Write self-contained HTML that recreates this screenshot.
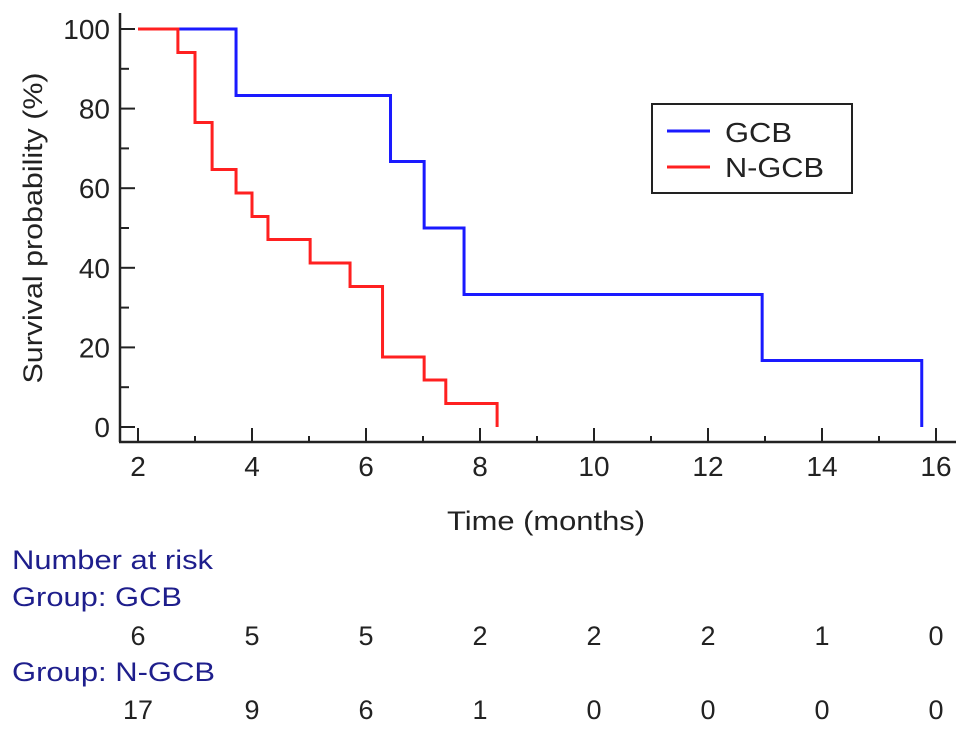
<!DOCTYPE html>
<html><head><meta charset="utf-8"><style>
body{margin:0;background:#fff;}
svg{display:block;font-family:"Liberation Sans",Arial,sans-serif;}
</style></head><body>
<svg id="chart" width="969" height="731" viewBox="0 0 969 731">
<g id="axes"></g><g id="series"></g>
<g>
<rect x="652" y="104" width="200" height="89" fill="#fff" stroke="#222" stroke-width="2"/>
<line x1="667" y1="131" x2="710" y2="131" stroke="#1a1aff" stroke-width="3"/>
<text x="725" y="142" font-size="28" fill="#222" textLength="67" lengthAdjust="spacingAndGlyphs">GCB</text>
<line x1="667" y1="167" x2="710" y2="167" stroke="#ff2020" stroke-width="3"/>
<text x="725" y="177" font-size="28" fill="#222" textLength="99" lengthAdjust="spacingAndGlyphs">N-GCB</text>
</g>
<text x="447" y="530" font-size="27" fill="#222" textLength="198" lengthAdjust="spacingAndGlyphs">Time (months)</text>
<text transform="translate(42,228) rotate(-90)" font-size="27" fill="#222" text-anchor="middle" textLength="311" lengthAdjust="spacingAndGlyphs">Survival probability (%)</text>
<text x="12" y="569" font-size="27" fill="#1e1e8c" textLength="201" lengthAdjust="spacingAndGlyphs">Number at risk</text>
<text x="12" y="606" font-size="27" fill="#1e1e8c" textLength="170" lengthAdjust="spacingAndGlyphs">Group: GCB</text>
<text x="12" y="681" font-size="27" fill="#1e1e8c" textLength="203" lengthAdjust="spacingAndGlyphs">Group: N-GCB</text>
<g id="risk"></g>
</svg>
<script>
const xTicks=[2,4,6,8,10,12,14,16];
const yTicks=[0,20,40,60,80,100];
const gcbTimes=[2,3.72,6.43,7.02,7.72,12.95,15.75];
const gcbSurv=[100,83.3,66.7,50,33.3,16.7,0];
const ngcbTimes=[2,2.7,3.0,3.3,3.72,4.0,4.28,5.02,5.72,6.29,7.02,7.4,8.3];
const ngcbSurv=[100,94.1,76.5,64.7,58.8,52.9,47.1,41.2,35.3,17.6,11.8,5.9,0];
const riskGcb=[6,5,5,2,2,2,1,0];
const riskNgcb=[17,9,6,1,0,0,0,0];
const NS='http://www.w3.org/2000/svg';
const xS=t=>138+(t-2)*57;
const yS=v=>427-v*3.98;
function mk(tag,attrs,parent,txt){const e=document.createElementNS(NS,tag);for(const k in attrs)e.setAttribute(k,attrs[k]);if(txt!==undefined)e.textContent=txt;parent.appendChild(e);return e;}
const ax=document.getElementById('axes');
let e=mk('line',{x1:120,y1:13,x2:120,y2:442,stroke:'#222','stroke-width':2.5},ax);


e=mk('line',{x1:119,y1:442,x2:956,y2:442,stroke:'#222','stroke-width':2.5},ax);


for(let v=0;v<=100;v+=10){const major=v%20===0;mk('line',{x1:120,y1:yS(v),x2:major?135:129,y2:yS(v),stroke:'#222','stroke-width':2},ax);}
yTicks.forEach(v=>{const t=mk('text',{x:110,y:yS(v)+10,'font-size':28,fill:'#222','text-anchor':'end'},ax,String(v));

});
for(let m=2;m<=16;m++){const major=m%2===0;mk('line',{x1:xS(m),y1:442,x2:xS(m),y2:major?428:436,stroke:'#222','stroke-width':2},ax);}
xTicks.forEach(v=>{const t=mk('text',{x:xS(v),y:476,'font-size':28,fill:'#222','text-anchor':'middle'},ax,String(v));

});
function stepPath(ts,ss){let d='M'+xS(ts[0])+','+yS(ss[0]);for(let i=1;i<ts.length;i++){d+=' H'+xS(ts[i])+' V'+yS(ss[i]);}return d;}
const sg=document.getElementById('series');
e=mk('path',{d:stepPath(gcbTimes,gcbSurv),fill:'none',stroke:'#1a1aff','stroke-width':3},sg);


e=mk('path',{d:stepPath(ngcbTimes,ngcbSurv),fill:'none',stroke:'#ff2020','stroke-width':3},sg);


const rg=document.getElementById('risk');
xTicks.forEach((m,i)=>{
 let t=mk('text',{x:xS(m),y:645,'font-size':27,fill:'#222','text-anchor':'middle'},rg,String(riskGcb[i]));
 
 
 t=mk('text',{x:xS(m),y:719,'font-size':27,fill:'#222','text-anchor':'middle'},rg,String(riskNgcb[i]));
 
 
});
</script>
</body></html>
